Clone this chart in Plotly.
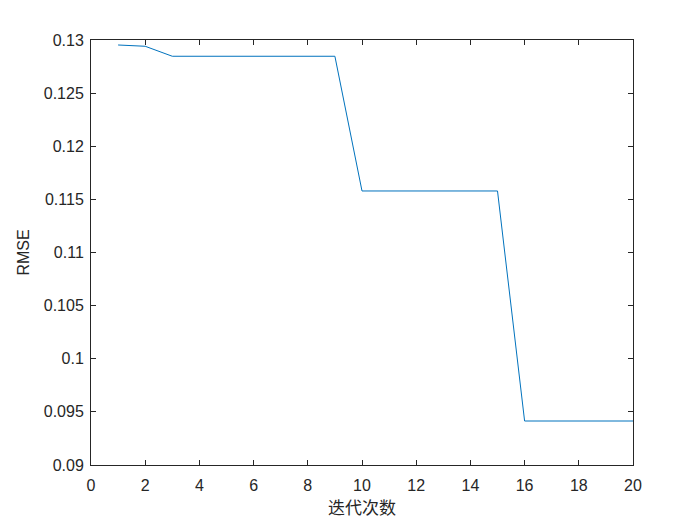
import plotly.graph_objects as go

iterations = list(range(1, 21))
rmse = [0.12953, 0.12941, 0.12847, 0.12847, 0.12847, 0.12847, 0.12847, 0.12847, 0.12847,
        0.11579, 0.11579, 0.11579, 0.11579, 0.11579, 0.11579,
        0.09414, 0.09414, 0.09414, 0.09414, 0.09414]

x_ticks = list(range(0, 21, 2))
y_ticks = [0.09, 0.095, 0.1, 0.105, 0.11, 0.115, 0.12, 0.125, 0.13]
y_tick_text = ["0.09", "0.095", "0.1", "0.105", "0.11", "0.115", "0.12", "0.125", "0.13"]

fig = go.Figure()
fig.add_trace(go.Scatter(x=iterations, y=rmse, mode="lines",
                         line=dict(color="#0072BD", width=1)))

axis_common = dict(showline=True, linecolor="#262626", linewidth=1, mirror="ticks",
                   ticks="inside", ticklen=5, tickcolor="#262626", showgrid=False,
                   zeroline=False, tickfont=dict(family="Liberation Sans, Arial", size=16, color="#262626"))

fig.update_layout(
    width=700, height=525,
    margin=dict(l=83, r=75, t=32, b=68),
    paper_bgcolor="white", plot_bgcolor="white",
    showlegend=False,
    font=dict(family="Liberation Sans, Arial", color="#262626"),
    xaxis=dict(range=[0, 20], tickvals=x_ticks, ticklabelstandoff=6,
               title=dict(text="迭代次数", font=dict(family="Noto Sans CJK SC", size=17, color="#262626"), standoff=5),
               **axis_common),
    yaxis=dict(range=[0.09, 0.13], tickvals=y_ticks, ticktext=y_tick_text, ticklabelstandoff=3,
               title=dict(text="RMSE", font=dict(family="Liberation Sans, Arial", size=16, color="#262626"), standoff=10),
               **axis_common),
)

fig.write_html("out.html")
